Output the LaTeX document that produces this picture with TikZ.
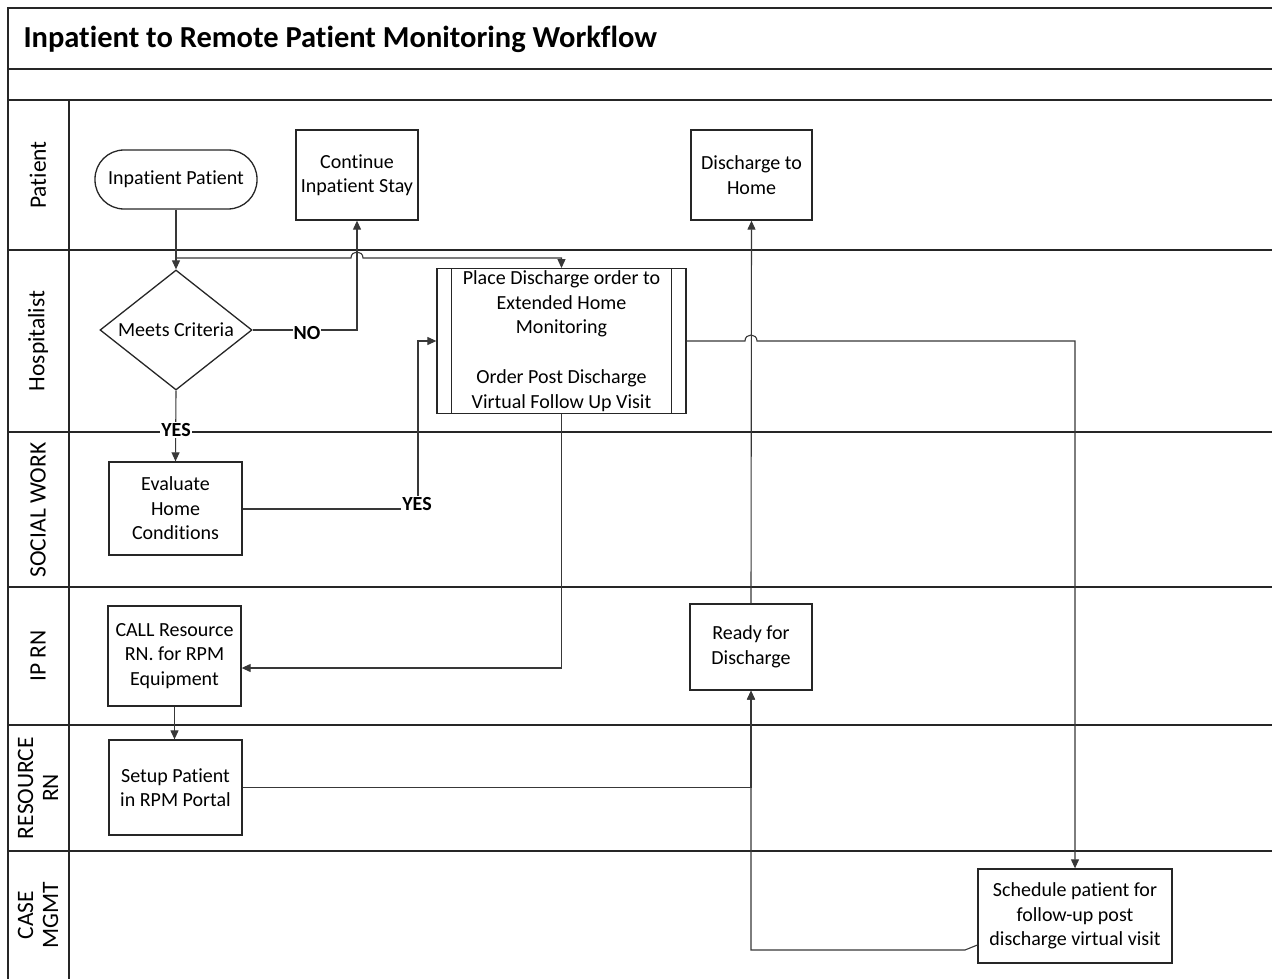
\documentclass[tikz,border=0pt]{standalone}
\usepackage{fontspec}
\setmainfont{Carlito}[RawFeature={-liga;-clig;-calt;-dlig}]
\usetikzlibrary{arrows.meta,shapes.geometric,calc}
\begin{document}
\begin{tikzpicture}[x=1pt,y=-1pt,
  lane/.style={line width=1.6pt, draw=black!85},
  box/.style={draw=black!85, line width=1.3pt, align=center, font=\fontsize{20}{24.5}\selectfont, inner sep=2pt},
  conn/.style={line width=1.1pt, draw=black!78},
  arr/.style={conn, -{Triangle[length=9pt,width=8pt]}},
  lbl/.style={font=\bfseries\fontsize{20}{24}\selectfont, fill=white, inner sep=1pt},
  lanetxt/.style={rotate=90, font=\fontsize{23.5}{25}\selectfont, align=center}]
\useasboundingbox (0,0) rectangle (1272,979);
% frame and lanes
\draw[lane] (1280,8) -- (8,8) -- (8,985);
\draw[lane] (8,69) -- (1280,69);
\draw[lane] (8,100) -- (1280,100);
\draw[lane] (69,100) -- (69,985);
\foreach \y in {250,432,587,725,851} \draw[lane] (8,\y) -- (1280,\y);
% title
\node[anchor=west, font=\bfseries\fontsize{30.5}{34}\selectfont] (title) at (20,39) {Inpatient to Remote Patient Monitoring Workflow};
% lane labels
\node[lanetxt] (lp) at (38,175) {Patient};
\node[lanetxt] (lh) at (38,341) {Hospitalist};
\node[lanetxt] (ls) at (38,510) {SOCIAL WORK};
\node[lanetxt] (li) at (38,656) {IP RN};
\node[lanetxt] (lr) at (38,788) {RESOURCE\\RN};
\node[lanetxt] (lc) at (38,915) {CASE\\MGMT};
% nodes
\node[box, rounded corners=29pt, minimum width=162pt, minimum height=59pt] (start) at (176,179.5) {Inpatient Patient};
\node[box, minimum width=122pt, minimum height=90pt] (cont) at (357,175) {Continue\\Inpatient Stay};
\node[box, minimum width=121pt, minimum height=90pt] (home) at (751.5,175) {Discharge to\\Home};
\node[draw=black!85, line width=1.3pt, diamond, minimum width=152pt, minimum height=120pt, inner sep=0pt] (crit) at (176,330) {};
\node[font=\fontsize{20}{24.5}\selectfont] (crittext) at (crit.center) {Meets Criteria};
\node[box, minimum width=249pt, minimum height=142pt] (place) at (561.5,341) {Place Discharge order to\\Extended Home\\Monitoring\\ ~ \\[1pt]Order Post Discharge\\Virtual Follow Up Visit};
\draw[draw=black!85, line width=1.3pt] ($(place.north west)+(15,0)$) -- ($(place.south west)+(15,0)$);
\draw[draw=black!85, line width=1.3pt] ($(place.north east)+(-15,0)$) -- ($(place.south east)+(-15,0)$);
\node[box, minimum width=133pt, minimum height=93pt] (eval) at (175.5,508.5) {Evaluate\\Home\\Conditions};
\node[box, minimum width=133pt, minimum height=100pt] (call) at (174.5,656) {CALL Resource\\RN. for RPM\\Equipment};
\node[box, minimum width=122pt, minimum height=86pt] (ready) at (751,647) {Ready for\\Discharge};
\node[box, minimum width=133pt, minimum height=95pt] (setup) at (175.5,787.5) {Setup Patient\\in RPM Portal};
\node[box, minimum width=194pt, minimum height=94pt] (sched) at (1075,916) {Schedule patient for\\follow-up post\\discharge virtual visit};
% connectors
\coordinate (j1) at (176,258);
\coordinate (hopA) at (cont.south |- j1);
\draw[arr] (start.south) -- (crit.north);
\draw[arr] (j1) -- ($(hopA)+(-6,0)$) .. controls ($(hopA)+(-6,-8)$) and ($(hopA)+(6,-8)$) .. ($(hopA)+(6,0)$) -- (place.north |- j1) -- (place.north);
\draw[arr] (crit.east) -- (cont.south |- crit.east) -- (cont.south);
\draw[arr] (crit.south) -- (eval.north);
\coordinate (c2) at (418,509);
\draw[arr] (eval.east |- c2) -- (c2) -- (c2 |- place.west) -- (place.west);
\coordinate (c3) at (561.5,668);
\draw[arr] (place.south) -- (c3) -- (call.east |- c3);
\coordinate (hopB) at (ready.north |- place.east);
\coordinate (c4) at (1075,341);
\draw[arr] (place.east) -- ($(hopB)+(-6,0)$) .. controls ($(hopB)+(-6,-8)$) and ($(hopB)+(6,-8)$) .. ($(hopB)+(6,0)$) -- (c4) -- (sched.north);
\draw[arr] (call.south) -- (call.south |- setup.north);
\draw[arr] (setup.east) -- (ready.south |- setup.east) -- (ready.south);
\coordinate (c5) at (965,950);
\draw[arr] ($(sched.west)+(0,29)$) -- (c5) -- (ready.south |- c5) -- (ready.south);
\draw[arr] (ready.north) -- (home.south);
% labels
\node[lbl] (no) at (307,333) {NO};
\node[lbl] (yes1) at (176,430) {YES};
\node[lbl] (yes2) at (417,504) {YES};
\end{tikzpicture}
\end{document}
